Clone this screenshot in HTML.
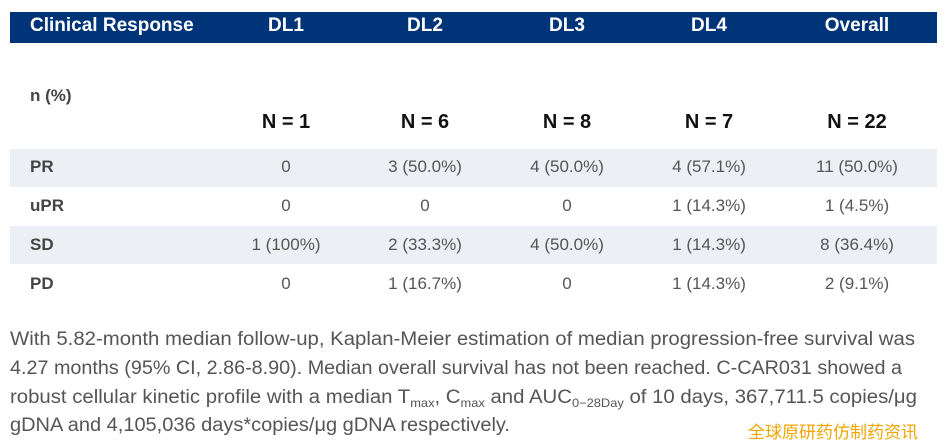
<!DOCTYPE html>
<html><head><meta charset="utf-8"><style>
body{margin:0;width:947px;height:447px;background:#fff;font-family:"Liberation Sans",sans-serif;position:relative;overflow:hidden}
.hdr{position:absolute;left:10px;top:12px;width:927px;height:31px;background:#003478}
.t{position:absolute;white-space:nowrap}
.h{color:#fff;font-weight:bold;font-size:19px;top:15px}
.c{transform:translateX(-50%)}
.band{position:absolute;left:10px;width:927px;height:38px;background:#eceff3}
.lab{font-weight:bold;font-size:17px;color:#444;left:30px}
.v{font-size:17px;color:#555}
.n{font-weight:bold;font-size:20px;color:#111;top:111px}
svg.p{position:absolute;left:0;top:310px}
.wm{position:absolute;left:748px;top:418px;color:#f0a500;font-size:17px;font-family:"Noto Sans CJK SC",sans-serif}
</style></head><body>
<div class="hdr"></div>
<div class="t h" style="left:30px">Clinical Response</div>
<div class="t h c" style="left:286px">DL1</div>
<div class="t h c" style="left:425px">DL2</div>
<div class="t h c" style="left:567px">DL3</div>
<div class="t h c" style="left:709px">DL4</div>
<div class="t h c" style="left:857px">Overall</div>
<div class="t lab" style="top:86px">n (%)</div>
<div class="t n c" style="left:286px">N = 1</div>
<div class="t n c" style="left:425px">N = 6</div>
<div class="t n c" style="left:567px">N = 8</div>
<div class="t n c" style="left:709px">N = 7</div>
<div class="t n c" style="left:857px">N = 22</div>
<div class="band" style="top:149px"></div>
<div class="band" style="top:226px"></div>
<div id="rows"></div>
<svg class="p" width="947" height="137" font-family="Liberation Sans, sans-serif" font-size="19" fill="#555">
<text x="10" y="35" textLength="905" lengthAdjust="spacingAndGlyphs">With 5.82-month median follow-up, Kaplan-Meier estimation of median progression-free survival was</text>
<text x="10" y="64" textLength="892" lengthAdjust="spacingAndGlyphs">4.27 months (95% CI, 2.86-8.90). Median overall survival has not been reached. C-CAR031 showed a</text>
<text x="10" y="93" textLength="907" lengthAdjust="spacingAndGlyphs">robust cellular kinetic profile with a median T<tspan font-size="12" dy="4">max</tspan><tspan dy="-4">, C</tspan><tspan font-size="12" dy="4">max</tspan><tspan dy="-4"> and AUC</tspan><tspan font-size="12" dy="4">0−28Day</tspan><tspan dy="-4"> of 10 days, 367,711.5 copies/μg</tspan></text>
<text x="10" y="121" textLength="500" lengthAdjust="spacingAndGlyphs">gDNA and 4,105,036 days*copies/μg gDNA respectively.</text>
</svg>
<div class="wm">全球原研药仿制药资讯</div>
<script>
const labels=["PR","uPR","SD","PD"];
const dl1=["0","0","1 (100%)","0"];
const dl2=["3 (50.0%)","0","2 (33.3%)","1 (16.7%)"];
const dl3=["4 (50.0%)","0","4 (50.0%)","0"];
const dl4=["4 (57.1%)","1 (14.3%)","1 (14.3%)","1 (14.3%)"];
const overall=["11 (50.0%)","1 (4.5%)","8 (36.4%)","2 (9.1%)"];
const cols=[dl1,dl2,dl3,dl4,overall];
const cx=[286,425,567,709,857];
const r=document.getElementById('rows');
labels.forEach((l,i)=>{
  const y=157+i*39;
  const d=document.createElement('div');
  d.className='t lab';d.style.top=y+'px';d.textContent=l;
  
  
  r.appendChild(d);
  cols.forEach((c,j)=>{
    const e=document.createElement('div');
    e.className='t v c';e.style.top=y+'px';e.style.left=cx[j]+'px';e.textContent=c[i];
    
    
    r.appendChild(e);
  });
});
</script>
</body></html>
